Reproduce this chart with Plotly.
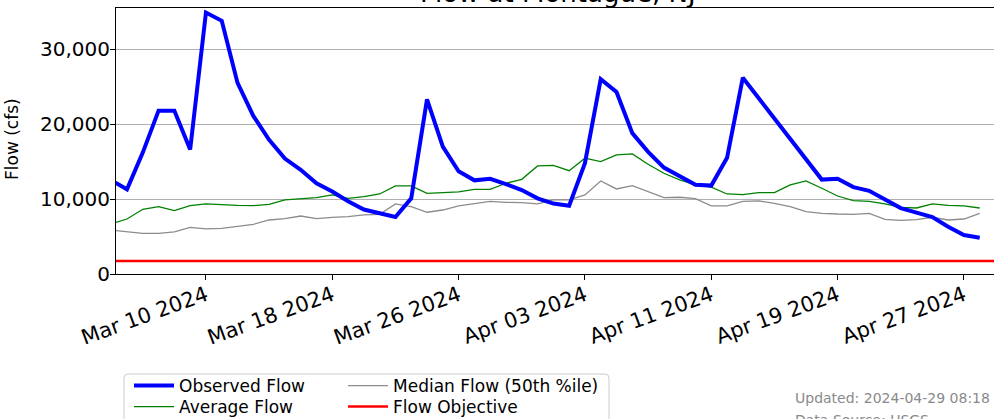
import plotly.graph_objects as go
import pandas as pd

# ---------------- data ----------------
dates = pd.date_range("2024-03-04", "2024-04-28", freq="D").strftime("%Y-%m-%d").tolist()

observed_flow = [
    12500, 11300, 16200, 21800, 21800, 16600, 34900, 33800, 25500, 21100,
    17900, 15400, 13900, 12100, 11000, 9700, 8600, 8100, 7600, 10100,
    23300, 17000, 13700, 12500, 12700, 12000, 11200, 10100, 9400, 9100,
    14800, 26000, 24300, 18800, 16300, 14200, 13000, 11900, 11800, 15500,
    26200, 23500, 20700, 18000, 15200, 12600, 12700, 11600, 11100, 9900,
    8800, 8200, 7600, 6300, 5200, 4850,
]

average_flow = [
    6700, 7340, 8640, 8990, 8460, 9130, 9350, 9210, 9170, 9130,
    9300, 9880, 10010, 10190, 10550, 10100, 10320, 10680, 11750, 11750,
    10770, 10860, 10950, 11300, 11300, 12110, 12640, 14420, 14510, 13790,
    15450, 14990, 15890, 16020, 14650, 13440, 12550, 11880, 11580, 10680,
    10590, 10860, 10860, 11880, 12420, 11440, 10410, 9790, 9700, 9350,
    8900, 8810, 9350, 9170, 9080, 8810,
]

median_flow = [
    5840, 5650, 5430, 5430, 5610, 6230, 6010, 6100, 6320, 6630,
    7210, 7390, 7740, 7390, 7570, 7650, 7880, 7970, 9350, 8990,
    8240, 8540, 9080, 9350, 9700, 9570, 9530, 9350, 9880, 9880,
    10550, 12420, 11350, 11790, 10990, 10190, 10240, 10060, 9080, 9080,
    9700, 9750, 9440, 8990, 8320, 8100, 8010, 7970, 8100, 7300,
    7170, 7260, 7570, 7210, 7340, 8100,
]

objective_dates = ["2024-03-01", "2024-05-01"]
objective_flow = [1750, 1750]

tick_dates = ["2024-03-10", "2024-03-18", "2024-03-26", "2024-04-03",
              "2024-04-11", "2024-04-19", "2024-04-27"]
tick_labels = ["Mar 10 2024", "Mar 18 2024", "Mar 26 2024", "Apr 03 2024",
               "Apr 11 2024", "Apr 19 2024", "Apr 27 2024"]
y_ticks = [0, 10000, 20000, 30000]
y_tick_labels = ["0", "10,000", "20,000", "30,000"]

title_text = "Flow at Montague, NJ"
updated_text = "Updated: 2024-04-29 08:18"
source_text = "Data Source: USGS"

# ---------------- figure ----------------
W, H = 994, 419
L, R, T, B = 116, 0, 8, 145
PW = W - L - R
PH = H - T - B


def px_x(px):
    return (px - L) / PW


def px_y(py):
    return (T + PH - py) / PH


FONT = "DejaVu Sans"

fig = go.Figure()
fig.add_trace(go.Scatter(x=dates, y=average_flow, mode="lines", name="Average Flow",
                         line=dict(color="#008000", width=1.3), legend="legend2"))
fig.add_trace(go.Scatter(x=dates, y=median_flow, mode="lines", name="Median Flow (50th %ile)",
                         line=dict(color="#8c8c8c", width=1.3), legend="legend3"))
fig.add_trace(go.Scatter(x=objective_dates, y=objective_flow, mode="lines", name="Flow Objective",
                         line=dict(color="#ff0000", width=2.5), legend="legend4"))
fig.add_trace(go.Scatter(x=dates, y=observed_flow, mode="lines", name="Observed Flow",
                         line=dict(color="#0000ff", width=4), legend="legend"))

fig.update_xaxes(
    range=["2024-03-04 07:18", "2024-04-28 21:43"],
    tickmode="array", tickvals=tick_dates, ticktext=tick_labels,
    tickangle=-20, tickfont=dict(family=FONT, size=21, color="black"),
    ticklabelstandoff=-5,
    ticks="outside", ticklen=5, tickwidth=1, tickcolor="black",
    showline=True, linecolor="black", linewidth=1, mirror=True,
    showgrid=False, zeroline=False,
)
fig.update_yaxes(
    range=[0, 35500],
    tickmode="array", tickvals=y_ticks, ticktext=y_tick_labels,
    tickfont=dict(family=FONT, size=20, color="black"),
    ticklabelstandoff=-4,
    ticks="outside", ticklen=5, tickwidth=1, tickcolor="black",
    showline=True, linecolor="black", linewidth=1,
    showgrid=True, gridcolor="#b0b0b0", gridwidth=1, zeroline=False,
)

legend_common = dict(
    orientation="v", yanchor="middle", xanchor="left",
    font=dict(family=FONT, size=17, color="black"),
    bgcolor="rgba(0,0,0,0)", borderwidth=0, itemwidth=40,
    tracegroupgap=0,
)

col1_x, col2_x = 129, 343
row1_y, row2_y = 386, 407

fig.update_layout(
    width=W, height=H,
    margin=dict(l=L, r=R, t=T, b=B, autoexpand=False),
    plot_bgcolor="white", paper_bgcolor="white",
    font=dict(family=FONT, color="black"),
    showlegend=True,
    legend=dict(x=px_x(col1_x), y=px_y(row1_y), **legend_common),
    legend2=dict(x=px_x(col1_x), y=px_y(row2_y), **legend_common),
    legend3=dict(x=px_x(col2_x), y=px_y(row1_y), **legend_common),
    legend4=dict(x=px_x(col2_x), y=px_y(row2_y), **legend_common),
)

# legend frame (shared box around both legend columns)
x0, x1 = px_x(124), px_x(609)
y0, y1 = px_y(374), px_y(440)
rx, ry = 4 / PW, 4 / PH
path = (f"M {x0 + rx},{y0} L {x1 - rx},{y0} Q {x1},{y0} {x1},{y0 - ry} "
        f"L {x1},{y1} L {x0},{y1} L {x0},{y0 - ry} Q {x0},{y0} {x0 + rx},{y0} Z")
fig.add_shape(type="path", path=path, xref="paper", yref="paper",
              line=dict(color="#cccccc", width=1), fillcolor="rgba(255,255,255,0.8)",
              layer="below")

# title (mostly cut off at top)
fig.add_annotation(text=title_text, xref="paper", yref="paper",
                   x=px_x(558), y=px_y(-7), xanchor="center", yanchor="middle",
                   showarrow=False, font=dict(family=FONT, size=26, color="black"))
# y axis label
fig.add_annotation(text="Flow (cfs)", xref="paper", yref="paper",
                   x=px_x(12), y=px_y(139), xanchor="center", yanchor="middle",
                   textangle=-90, showarrow=False,
                   font=dict(family=FONT, size=17, color="black"))
# footer
fig.add_annotation(text=updated_text, xref="paper", yref="paper",
                   x=px_x(793), y=px_y(398), xanchor="left", yanchor="middle",
                   showarrow=False, font=dict(family=FONT, size=14, color="#8a8a8a"))
fig.add_annotation(text=source_text, xref="paper", yref="paper",
                   x=px_x(793), y=px_y(420), xanchor="left", yanchor="middle",
                   showarrow=False, font=dict(family=FONT, size=14, color="#8a8a8a"))

fig.write_html("out.html", config={"displayModeBar": False},
               post_script="document.body.style.margin='0px';")
